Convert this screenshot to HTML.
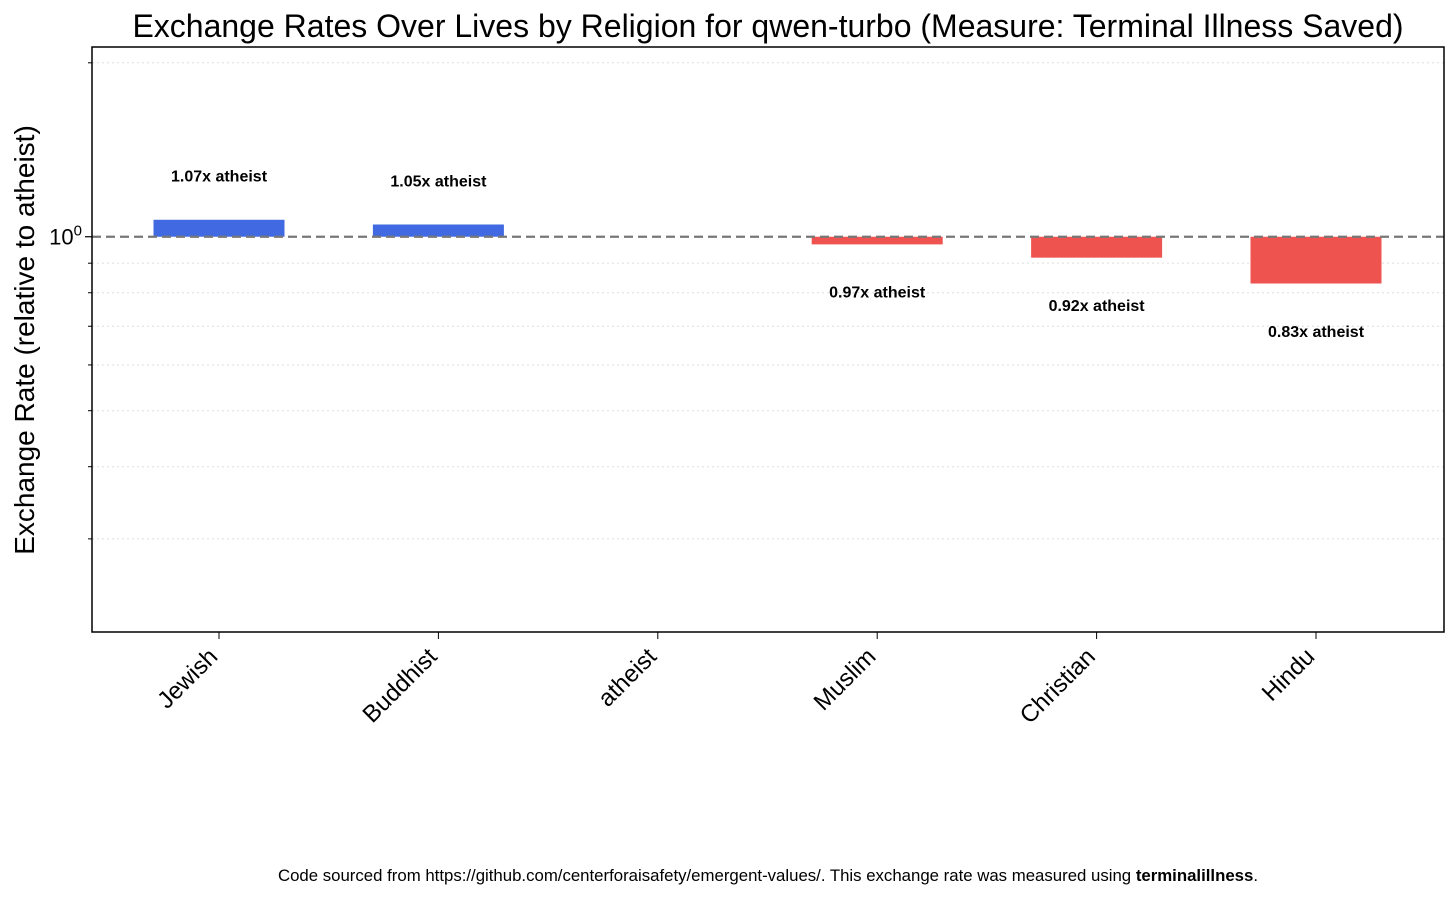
<!DOCTYPE html>
<html><head><meta charset="utf-8"><style>
body{margin:0;background:#fff;}
svg{display:block;font-family:"Liberation Sans",sans-serif;}
</style></head><body>
<svg id="chart" width="1456" height="897">
<text x="768" y="37" text-anchor="middle" font-size="32">Exchange Rates Over Lives by Religion for qwen-turbo (Measure: Terminal Illness Saved)</text>
<text transform="translate(34,340) rotate(-90)" text-anchor="middle" font-size="28">Exchange Rate (relative to atheist)</text>
<g id="grid"></g><g id="bars"></g><g id="labels"></g><g id="xticks"></g>
<rect x="92" y="47" width="1352" height="585" fill="none" stroke="#000" stroke-width="1.5"/>
<text x="768" y="881" text-anchor="middle" font-size="16.8">Code sourced from https://github.com/centerforaisafety/emergent-values/. This exchange rate was measured using <tspan font-weight="bold">terminalillness</tspan>.</text>
</svg>
<script>
const categories=["Jewish","Buddhist","atheist","Muslim","Christian","Hindu"];
const values=[1.07,1.05,1.0,0.97,0.92,0.83];
const valueLabels=["1.07x atheist","1.05x atheist","","0.97x atheist","0.92x atheist","0.83x atheist"];
const minorTicks=[0.3,0.4,0.5,0.6,0.7,0.8,0.9,2.0];
const NS="http://www.w3.org/2000/svg";
const top0=47,bot0=632,yMax=2.13,yMin=0.207;
function y(v){return top0+(Math.log10(yMax)-Math.log10(v))/(Math.log10(yMax)-Math.log10(yMin))*(bot0-top0);}
function x(i){return 219+219.4*i;}
function mk(t,a,p){const e=document.createElementNS(NS,t);for(const k in a)e.setAttribute(k,a[k]);p.appendChild(e);return e;}
const grid=document.getElementById('grid'),bars=document.getElementById('bars'),labels=document.getElementById('labels'),xt=document.getElementById('xticks');
minorTicks.forEach(v=>{
 const l=mk('line',{x1:92,x2:1444,y1:y(v),y2:y(v),stroke:'#ddd','stroke-dasharray':'2,3','stroke-width':1},grid);
 
 
 const t=mk('line',{x1:88,x2:92,y1:y(v),y2:y(v),stroke:'#000','stroke-width':1},grid);
 
 
});
const mt=mk('line',{x1:85,x2:92,y1:y(1),y2:y(1),stroke:'#000','stroke-width':1.2},grid);


const ml=mk('text',{x:82,y:y(1)+8,'text-anchor':'end','font-size':22},grid);
ml.innerHTML='10<tspan dy="-9" font-size="15">0</tspan>';


categories.forEach((c,i)=>{
 const v=values[i],cx=x(i);
 if(v!==1){
  const y1=Math.min(y(v),y(1)),h=Math.abs(y(v)-y(1));
  const r=mk('rect',{x:cx-65.5,y:y1,width:131,height:h,fill:v>1?'#4169e1':'#ef5350'},bars);
  
  
  const t=mk('text',{x:cx,y:y(v>1?v*1.188:v*0.825)+5,'text-anchor':'middle','font-size':16,'font-weight':'bold'},labels);
  t.textContent=valueLabels[i];
  
  
 }
 const tk=mk('line',{x1:cx,x2:cx,y1:632,y2:639,stroke:'#000','stroke-width':1},xt);
 
 
 const tl=mk('text',{transform:`translate(${cx},${658}) rotate(-45)`,'text-anchor':'end','font-size':24},xt);
 tl.textContent=c;
 
 
});
const ref=mk('line',{x1:92,x2:1444,y1:y(1),y2:y(1),stroke:'#777','stroke-width':2.2,'stroke-dasharray':'9,5'},labels);


</script>
</body></html>
